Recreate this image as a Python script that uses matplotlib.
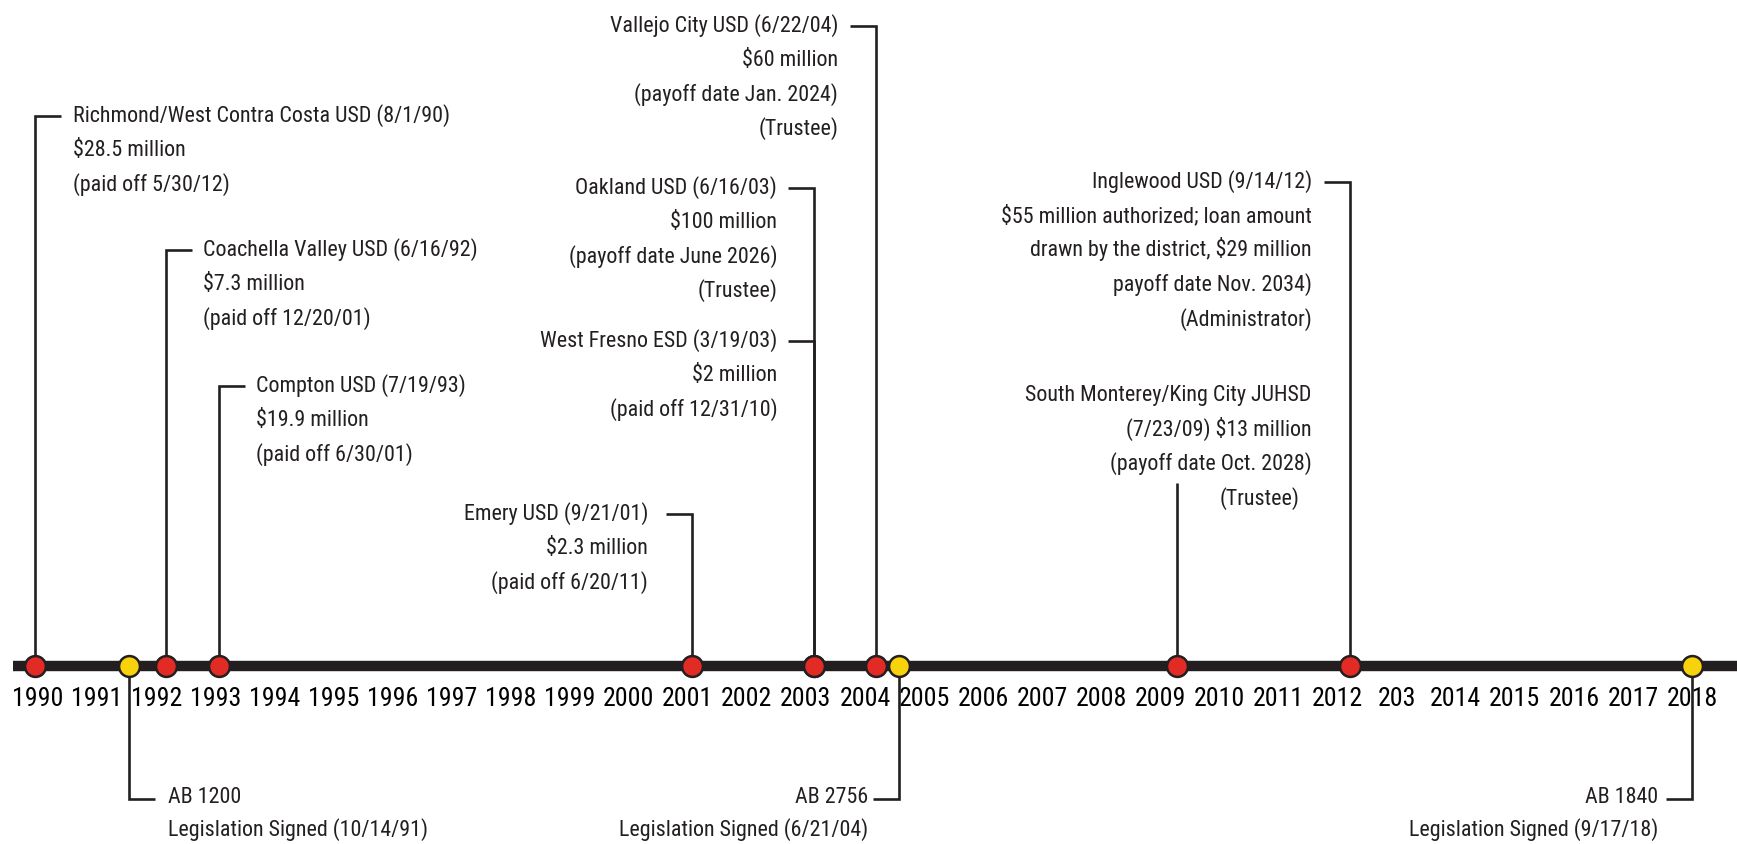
import os
import matplotlib
matplotlib.use('Agg')
import matplotlib.pyplot as plt
from matplotlib import font_manager
from matplotlib.font_manager import FontProperties
from matplotlib.textpath import TextPath

# --- data ---
years = list(range(1990, 2019))
year_labels = ['1990', '1991', '1992', '1993', '1994', '1995', '1996', '1997', '1998', '1999',
               '2000', '2001', '2002', '2003', '2004', '2005', '2006', '2007', '2008', '2009',
               '2010', '2011', '2012', '203', '2014', '2015', '2016', '2017', '2018']

# state loans (red dots), x position on the year axis
loan_x = [1989.95, 1992.17, 1993.06, 2001.07, 2003.14, 2003.14, 2004.19, 2009.28, 2012.21]
loan_text = [
    ['Richmond/West Contra Costa USD (8/1/90)', '$28.5 million', '(paid off 5/30/12)'],
    ['Coachella Valley USD (6/16/92)', '$7.3 million', '(paid off 12/20/01)'],
    ['Compton USD (7/19/93)', '$19.9 million', '(paid off 6/30/01)'],
    ['Emery USD (9/21/01)', '$2.3 million', '(paid off 6/20/11)'],
    ['West Fresno ESD (3/19/03)', '$2 million', '(paid off 12/31/10)'],
    ['Oakland USD (6/16/03)', '$100 million', '(payoff date June 2026)', '(Trustee)'],
    ['Vallejo City USD (6/22/04)', '$60 million', '(payoff date Jan. 2024)', '(Trustee)'],
    ['South Monterey/King City JUHSD', '(7/23/09) $13 million', '(payoff date Oct. 2028)', '(Trustee)'],
    ['Inglewood USD (9/14/12)', '$55 million authorized; loan amount',
     'drawn by the district, $29 million', 'payoff date Nov. 2034)', '(Administrator)'],
]

# legislation (yellow dots)
law_x = [1991.54, 2004.58, 2018.0]
law_text = [
    ['AB 1200', 'Legislation Signed (10/14/91)'],
    ['AB 2756', 'Legislation Signed (6/21/04)'],
    ['AB 1840', 'Legislation Signed (9/17/18)'],
]

# --- layout (pixels from the top / horizontal pixel offsets) ---
loan_side = ['r', 'r', 'r', 'l', 'l', 'l', 'l', 'l', 'l']
loan_stub_y = [117, 251, 387, 515, 342, 189, 27, None, 183]
loan_gap = [12, 11, 11, 18, 11, 11, 12, 0, 12]
law_side = ['r', 'l', 'l']
law_gap = [13, 5, 8]

W, H = 1737, 845
PX_YR = 59.07
X0 = 1990 - 38 / PX_YR
X1 = X0 + W / PX_YR
TL_Y = 667
DARK = '#231F20'
RED = '#E32B26'
YELLOW = '#F8D20D'

# pick the narrowest sans that is installed
wanted = ['LiberationSansNarrow-Regular.ttf', 'RobotoCondensed-Regular.ttf',
          'NotoSans-Condensed.ttf', 'OpenSans-CondensedRegular.ttf',
          'OpenSans_Condensed-Regular.ttf', 'DejaVuSansCondensed.ttf']
files = {os.path.basename(f.fname): f.fname for f in font_manager.fontManager.ttflist}
font_file = next((files[w] for w in wanted if w in files), None)


def make_prop():
    if font_file:
        return FontProperties(fname=font_file)
    return FontProperties(family='DejaVu Sans', stretch='condensed')


def fit_size(sample, cap_px, width_px):
    # size (pt) from cap height and from sample width, then meet in the middle
    p = make_prop()
    cap = TextPath((0, 0), 'H', size=1, prop=p).get_extents().height
    wid = TextPath((0, 0), sample, size=1, prop=p).get_extents().width
    s_cap = cap_px * 0.72 / cap
    s_wid = width_px * 0.72 / wid
    return (s_cap * s_wid) ** 0.5


FS = fit_size('Richmond/West Contra Costa USD (8/1/90)', 16.5, 353)
YFS = fit_size('1990', 18.7, 47)


def prop(size):
    p = make_prop()
    p.set_size(size)
    return p


def dx(px):
    return px / PX_YR


fig = plt.figure(figsize=(W / 100, H / 100), dpi=100)
ax = fig.add_axes([0, 0, 1, 1])
ax.set_xlim(X0, X1)
ax.set_ylim(H, 0)
ax.axis('off')

# main timeline
ax.plot([X0 + dx(13), X1 + 1], [TL_Y, TL_Y], color=DARK, lw=7.5, solid_capstyle='butt', zorder=2)

# year labels
for y, lab in zip(years, year_labels):
    ax.text(y, 706.5, lab, ha='center', va='baseline', fontproperties=prop(YFS),
            color='black', zorder=1)

txt_kw = dict(fontproperties=prop(FS), color=DARK, va='baseline')
line_kw = dict(color=DARK, lw=1.9, solid_capstyle='butt', solid_joinstyle='miter', zorder=1)

# loan annotations above the line
for x, lines, side, sy, gap in zip(loan_x, loan_text, loan_side, loan_stub_y, loan_gap):
    if sy is None:
        # South Monterey: plain vertical line, text block to the upper right
        ax.plot([x, x], [TL_Y, 484], **line_kw)
        tx = x + dx(135)
        for i, s in enumerate(lines):
            shift = -12 if i == len(lines) - 1 else 0
            ax.text(tx + dx(shift), 401.5 + i * 34.3, s, ha='right', **txt_kw)
        continue
    sgn = 1 if side == 'r' else -1
    ax.plot([x, x, x + sgn * dx(26)], [TL_Y, sy, sy], **line_kw)
    tx = x + sgn * dx(26 + gap)
    for i, s in enumerate(lines):
        ax.text(tx, sy + 4.5 + i * 34.5, s, ha='left' if side == 'r' else 'right', **txt_kw)

# legislation annotations below the line
for x, lines, side, gap in zip(law_x, law_text, law_side, law_gap):
    sgn = 1 if side == 'r' else -1
    ax.plot([x, x, x + sgn * dx(26)], [TL_Y, 799.5, 799.5], **line_kw)
    tx = x + sgn * dx(26 + gap)
    for i, s in enumerate(lines):
        ax.text(tx, 803 + i * 32.5, s, ha='left' if side == 'r' else 'right', **txt_kw)

# dots
ax.scatter(loan_x, [TL_Y] * len(loan_x), s=225, color=RED, edgecolor=DARK, linewidth=1.8, zorder=3)
ax.scatter(law_x, [TL_Y] * len(law_x), s=225, color=YELLOW, edgecolor=DARK, linewidth=1.8, zorder=3)

fig.savefig('out.png', dpi=100, facecolor='white')
